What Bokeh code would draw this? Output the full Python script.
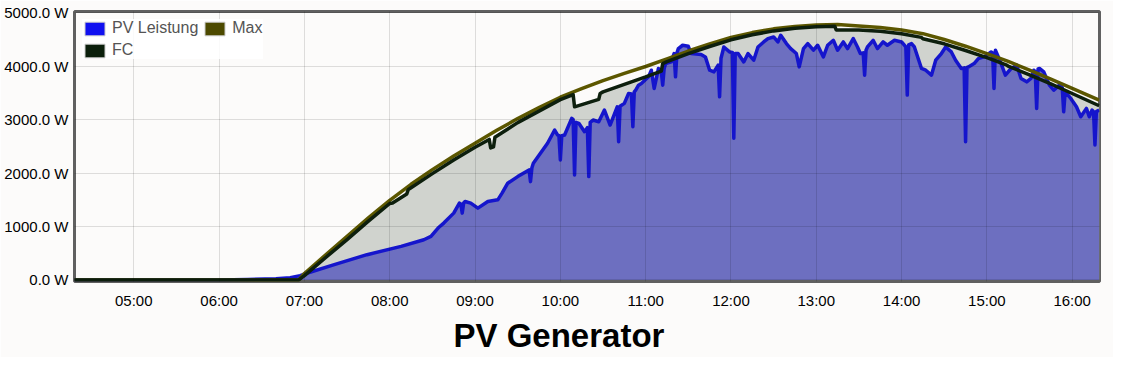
import numpy as np
from bokeh.plotting import figure
from bokeh.models import FixedTicker, Legend, LegendItem, Range1d, Title
from bokeh.embed import file_html
from bokeh.resources import INLINE

# ---------------- data ----------------
pv_time = ["04:18", "06:00", "06:20", "06:40", "06:50", "06:57", "07:00", "07:21", "07:44", "08:08",
           "08:24", "08:29", "08:34", "08:38", "08:45", "08:49", "08:50", "08:51", "08:52", "08:53",
           "08:57", "09:02", "09:09", "09:16", "09:19", "09:23", "09:30", "09:34", "09:38", "09:39",
           "09:40", "09:41", "09:46", "09:51", "09:56", "09:58", "09:59", "10:00", "10:01", "10:03",
           "10:08", "10:09", "10:10", "10:11", "10:13", "10:17", "10:19", "10:20", "10:21", "10:23",
           "10:27", "10:31", "10:35", "10:40", "10:41", "10:42", "10:45", "10:48", "10:50", "10:51",
           "10:52", "10:53", "10:55", "10:57", "11:02", "11:04", "11:06", "11:09", "11:11", "11:12",
           "11:13", "11:14", "11:18", "11:20", "11:21", "11:22", "11:23", "11:26", "11:30", "11:32",
           "11:39", "11:42", "11:45", "11:48", "11:51", "11:52", "11:53", "11:55", "11:59", "12:01",
           "12:02", "12:03", "12:05", "12:09", "12:12", "12:16", "12:19", "12:23", "12:26", "12:30",
           "12:33", "12:35", "12:39", "12:42", "12:46", "12:48", "12:51", "12:54", "12:58", "13:01",
           "13:05", "13:08", "13:12", "13:15", "13:19", "13:22", "13:26", "13:29", "13:31", "13:33",
           "13:34", "13:35", "13:36", "13:40", "13:43", "13:47", "13:50", "13:55", "14:00", "14:03",
           "14:04", "14:05", "14:07", "14:09", "14:14", "14:17", "14:21", "14:24", "14:28", "14:31",
           "14:35", "14:38", "14:42", "14:44", "14:45", "14:46", "14:47", "14:51", "14:54", "14:58",
           "15:03", "15:04", "15:05", "15:06", "15:10", "15:13", "15:17", "15:21", "15:24", "15:28",
           "15:31", "15:33", "15:34", "15:35", "15:36", "15:37", "15:40", "15:44", "15:47", "15:51",
           "15:53", "15:54", "15:55", "15:56", "15:59", "16:03", "16:06", "16:10", "16:12", "16:14",
           "16:15", "16:16", "16:17", "16:19"]
pv_watt = [0, 0, 8, 22, 42, 80, 110, 286, 472, 627,
           752, 814, 971, 1064, 1250, 1437, 1420, 1250, 1440, 1468,
           1437, 1344, 1468, 1499, 1624, 1811, 1934, 1997, 2059, 1840,
           2100, 2184, 2371, 2558, 2806, 2713, 2700, 2246, 2700, 2713,
           3024, 3000, 1966, 2950, 2931, 2775, 2850, 1934, 2950, 2993,
           2961, 3180, 2899, 3241, 2588, 3250, 3305, 3491, 3480, 2868,
           3520, 3553, 3646, 3678, 3802, 3926, 3585, 3958, 3900, 3646,
           3950, 4051, 4081, 4238, 3802, 4250, 4331, 4393, 4374, 4238,
           4220, 4175, 3926, 3895, 4020, 3428, 4150, 4361, 4268, 4260,
           2651, 4240, 4238, 4081, 4238, 4113, 4361, 4455, 4518, 4548,
           4455, 4580, 4424, 4331, 4238, 3988, 4331, 4424, 4300, 4393,
           4175, 4393, 4486, 4300, 4455, 4331, 4518, 4361, 4238, 4250,
           3833, 4300, 4361, 4486, 4331, 4455, 4393, 4486, 4455, 4361,
           3460, 4400, 4424, 4361, 3958, 3926, 3833, 4113, 4238, 4361,
           4268, 4113, 3958, 3970, 2588, 3980, 3988, 4051, 4144, 4175,
           4268, 4250, 3585, 4300, 4051, 3833, 3958, 4020, 3771, 3708,
           3771, 3926, 3900, 3211, 3950, 3958, 3895, 3646, 3553, 3646,
           3600, 3148, 3500, 3491, 3398, 3241, 3054, 3211, 3054, 3180,
           3150, 2526, 3150, 3180]

max_time = ["04:18", "06:56", "07:00", "07:15", "07:30", "07:45", "08:00", "08:15", "08:30", "08:45",
            "09:00", "09:15", "09:30", "09:45", "10:00", "10:15", "10:30", "10:45", "11:00", "11:15",
            "11:30", "11:45", "12:00", "12:15", "12:30", "12:45", "13:00", "13:15", "13:30", "13:45",
            "14:00", "14:15", "14:30", "14:45", "15:00", "15:15", "15:30", "15:45", "16:00", "16:19"]
max_watt = [0, 0, 120, 470, 815, 1160, 1490, 1790, 2065, 2320,
            2560, 2795, 3020, 3225, 3420, 3580, 3730, 3865, 3995, 4140,
            4285, 4420, 4540, 4630, 4700, 4745, 4770, 4780, 4755, 4725,
            4680, 4610, 4500, 4375, 4238, 4090, 3926, 3760, 3585, 3366]

fc_time = ["04:18", "06:56", "07:00", "07:15", "07:30", "07:45", "08:00", "08:02", "08:12", "08:13",
           "08:15", "08:30", "08:45", "09:00", "09:10", "09:11", "09:13", "09:14", "09:30", "09:45",
           "10:00", "10:09", "10:10", "10:27", "10:28", "10:30", "10:45", "11:00", "11:11", "11:12",
           "11:15", "11:30", "11:45", "12:00", "12:15", "12:30", "12:45", "13:00", "13:13", "13:14",
           "13:30", "13:45", "14:00", "14:14", "14:15", "14:30", "14:45", "15:00", "15:14", "15:15",
           "15:30", "15:45", "16:00", "16:19"]
fc_watt = [0, 0, 80, 420, 755, 1100, 1430, 1440, 1610, 1690,
           1725, 1990, 2245, 2485, 2630, 2470, 2490, 2670, 2945, 3160,
           3375, 3470, 3240, 3380, 3490, 3520, 3660, 3800, 3910, 4050,
           4085, 4235, 4370, 4495, 4590, 4662, 4710, 4738, 4750, 4680,
           4680, 4655, 4610, 4540, 4515, 4420, 4295, 4160, 4020, 4000,
           3840, 3670, 3490, 3260]

series_names = ["PV Leistung", "Max", "FC"]
x_ticks = [5, 6, 7, 8, 9, 10, 11, 12, 13, 14, 15, 16]
x_tick_labels = ["05:00", "06:00", "07:00", "08:00", "09:00", "10:00",
                 "11:00", "12:00", "13:00", "14:00", "15:00", "16:00"]
y_ticks = [0, 1000, 2000, 3000, 4000, 5000]
y_tick_labels = ["0.0 W", "1000.0 W", "2000.0 W", "3000.0 W", "4000.0 W", "5000.0 W"]
chart_title = "PV Generator"


def to_hours(s):
    h, m = s.split(":")
    return int(h) + int(m) / 60.0


pv_x = [to_hours(t) for t in pv_time]
max_x = [to_hours(t) for t in max_time]
fc_x = [to_hours(t) for t in fc_time]

FONT = "Liberation Sans"
BG = "#fcfbfa"

p = figure(width=1113, height=357, x_range=Range1d(4.305, 16.32), y_range=Range1d(-30, 5025),
           output_backend="svg", toolbar_location=None, title=None,
           min_border_left=74, min_border_right=14, min_border_top=11, min_border_bottom=0,
           background_fill_color=BG, border_fill_color=BG)

p.outline_line_color = "#606060"
p.outline_line_width = 3

# fills
p.varea(x=fc_x, y1=0, y2=fc_watt, fill_color="#d0d3ce", level="underlay")
p.varea(x=pv_x, y1=0, y2=pv_watt, fill_color="#6d6fc0", level="underlay")

# lines
p.line(pv_x, pv_watt, line_color="#1515cc", line_width=3.5, line_join="round")
p.line(max_x, max_watt, line_color="#5c5700", line_width=3.5, line_join="round")
p.line(fc_x, fc_watt, line_color="#0d1f0d", line_width=3.5, line_join="round")

# legend swatches (glyphs with no visible data, only used for the legend)
nan = np.array([np.nan])
sw_colors = {"PV Leistung": "#1010f0", "Max": "#4d4a00", "FC": "#0b1f0b"}
sw = {n: p.quad(left=nan, right=nan, top=nan, bottom=nan, fill_color=c,
                line_color="#cccccc", line_width=1)
      for n, c in sw_colors.items()}
# column-major fill: column 1 = PV Leistung, FC ; column 2 = Max
order = [series_names[0], series_names[2], series_names[1]]
legend = Legend(items=[LegendItem(label=n, renderers=[sw[n]]) for n in order],
                location="top_left", ncols=2, margin=8, padding=5, spacing=4,
                glyph_width=25, glyph_height=17, label_standoff=5,
                label_text_font=FONT, label_text_font_size="16px", label_text_color="#545454",
                background_fill_color="white", background_fill_alpha=0.85,
                border_line_color=None)
p.add_layout(legend)

# axes
for ax in (p.xaxis, p.yaxis):
    ax.axis_line_color = None
    ax.major_tick_line_color = None
    ax.minor_tick_line_color = None
    ax.major_tick_out = 0
    ax.major_tick_in = 0
    ax.minor_tick_out = 0
    ax.major_label_text_font = FONT
    ax.major_label_text_color = "black"

p.yaxis.ticker = FixedTicker(ticks=y_ticks)
p.yaxis.major_label_overrides = dict(zip(y_ticks, y_tick_labels))
p.yaxis.major_label_text_font_size = "15px"
p.yaxis.major_label_standoff = 6

p.xaxis.ticker = FixedTicker(ticks=x_ticks)
p.xaxis.major_label_overrides = dict(zip(x_ticks, x_tick_labels))
p.xaxis.major_label_text_font_size = "15px"
p.xaxis.major_label_standoff = 10

for g in (p.xgrid, p.ygrid):
    g.grid_line_color = "black"
    g.grid_line_alpha = 0.12
    g.level = "guide"

title = Title(text=chart_title, align="left", offset=379, standoff=7, text_font=FONT,
              text_font_size="33px", text_font_style="bold", text_color="black")
p.add_layout(title, "below")

open("out.html", "w").write(file_html(p, INLINE))
